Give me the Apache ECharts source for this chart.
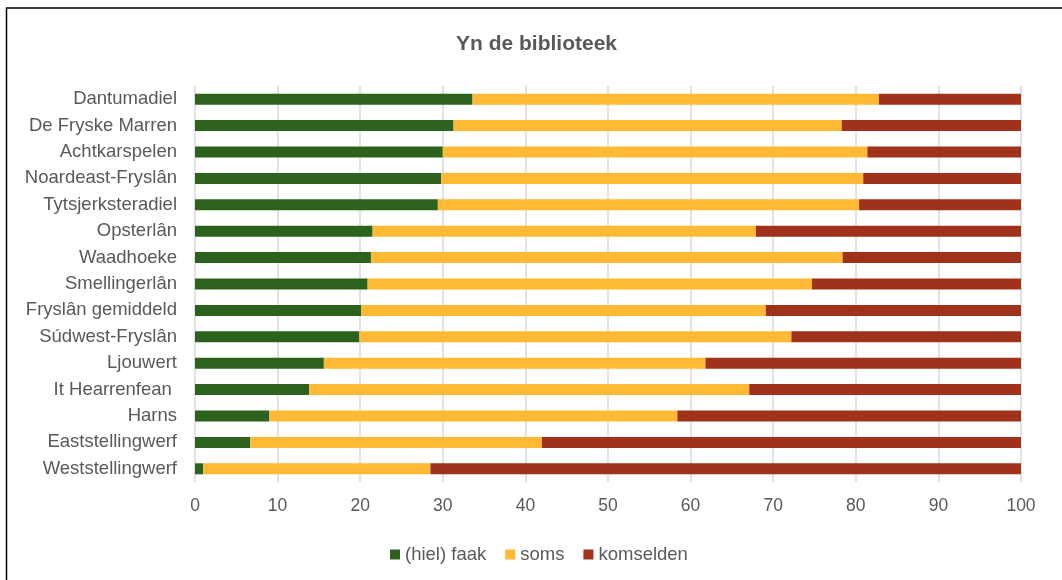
<!DOCTYPE html>
<html>
<head>
<meta charset="utf-8">
<script src="https://cdn.jsdelivr.net/npm/echarts@6/dist/echarts.min.js"></script>
<style>
  html, body { margin: 0; padding: 0; background: #fff; }
  #chart { width: 1062px; height: 580px; }
</style>
</head>
<body>
<div id="chart"></div>
<script>
// Gemeenten (top to bottom)
const categories = [
  'Dantumadiel', 'De Fryske Marren', 'Achtkarspelen', 'Noardeast-Fryslân',
  'Tytsjerksteradiel', 'Opsterlân', 'Waadhoeke', 'Smellingerlân',
  'Fryslân gemiddeld', 'Súdwest-Fryslân', 'Ljouwert', 'It Hearrenfean ',
  'Harns', 'Eaststellingwerf', 'Weststellingwerf'
];
// Percentages per answer
const faak = [33.6, 31.3, 30.0, 29.8, 29.4, 21.5, 21.3, 20.9, 20.1, 19.9, 15.6, 13.8, 9.0, 6.7, 1.0];
const soms = [49.2, 47.0, 51.4, 51.1, 51.0, 46.4, 57.1, 53.8, 49.0, 52.3, 46.2, 53.3, 49.4, 35.3, 27.5];
const komselden = [17.2, 21.7, 18.6, 19.1, 19.6, 32.1, 21.6, 25.3, 30.9, 27.8, 38.2, 32.9, 41.6, 58.0, 71.5];
const xTicks = { min: 0, max: 100, step: 10 };

const font = 'Liberation Sans, Arial, sans-serif';
const grey = '#595959';

const chart = echarts.init(document.getElementById('chart'), null, { renderer: 'canvas' });

function barSeries(name, data, color) {
  return {
    name, type: 'bar', stack: 'total', data,
    barWidth: 11,
    itemStyle: { color },
    emphasis: { disabled: true }
  };
}

chart.setOption({
  animation: false,
  backgroundColor: '#fff',
  textStyle: { fontFamily: font },
  graphic: [{
    type: 'rect',
    shape: { x: 6.5, y: 8, width: 1100, height: 1000 },
    style: { fill: 'none', stroke: '#000', lineWidth: 1.5 },
    silent: true
  }],
  title: {
    text: 'Yn de biblioteek',
    left: 451,
    top: 29,
    textStyle: { fontFamily: font, fontSize: 21, fontWeight: 'bold', color: grey }
  },
  legend: {
    left: 385,
    top: 540,
    icon: 'rect',
    itemWidth: 10,
    itemHeight: 10,
    itemGap: 19,
    textStyle: { fontFamily: font, fontSize: 18.5, color: grey },
    data: ['(hiel) faak', 'soms', 'komselden']
  },
  grid: { left: 195, right: 41, top: 86, bottom: 98, containLabel: false },
  xAxis: {
    type: 'value',
    min: xTicks.min,
    max: xTicks.max,
    interval: xTicks.step,
    axisLine: { show: false },
    axisTick: { show: false },
    axisLabel: { fontFamily: font, fontSize: 17.5, color: grey, margin: 15 },
    splitLine: { lineStyle: { color: '#d9d9d9', width: 1.5 } }
  },
  yAxis: {
    type: 'category',
    inverse: true,
    data: categories,
    axisLine: { show: false },
    axisTick: { show: false },
    axisLabel: { fontFamily: font, fontSize: 18.5, color: grey, margin: 18 }
  },
  series: [
    barSeries('(hiel) faak', faak, '#2D621E'),
    barSeries('soms', soms, '#FFB935'),
    barSeries('komselden', komselden, '#A0311B')
  ]
});
</script>
</body>
</html>
